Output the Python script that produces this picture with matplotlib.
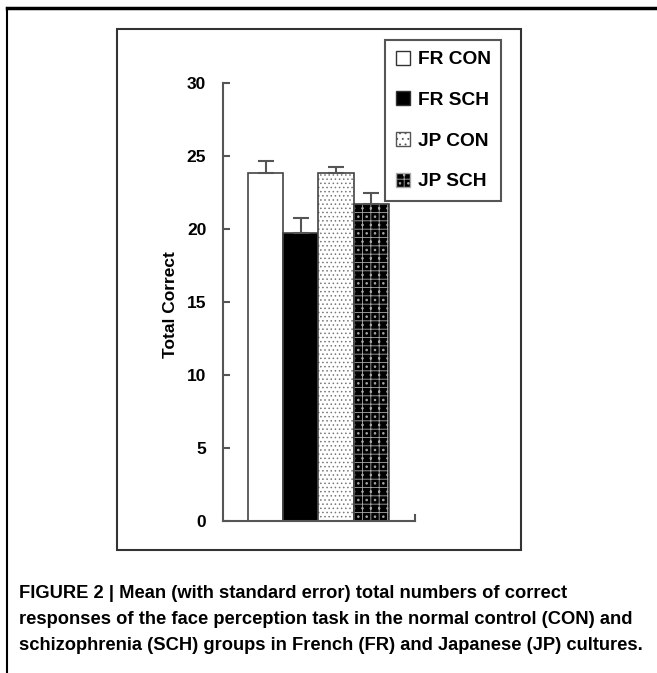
import matplotlib
matplotlib.use('Agg')
import matplotlib.pyplot as plt
from matplotlib.patches import Patch, Rectangle
from matplotlib.lines import Line2D
import numpy as np

groups = ['FR CON', 'FR SCH', 'JP CON', 'JP SCH']
means = [23.85, 19.7, 23.85, 21.7]
se = [0.8, 1.05, 0.4, 0.75]
yticks = [0, 5, 10, 15, 20, 25, 30]
caption = ('FIGURE 2 | Mean (with standard error) total numbers of correct\n'
           'responses of the face perception task in the normal control (CON) and\n'
           'schizophrenia (SCH) groups in French (FR) and Japanese (JP) cultures.')

plt.rcParams['hatch.linewidth'] = 0.6

W, H = 657, 673
fig = plt.figure(figsize=(W / 100, H / 100), dpi=100)
tick_font = ['Liberation Sans Narrow', 'Liberation Sans', 'DejaVu Sans']

# outer page frame and chart box
fig.add_artist(Line2D([7 / W, 1], [1 - 8 / H, 1 - 8 / H], color='black', lw=2.5))
fig.add_artist(Line2D([7 / W, 7 / W], [0, 1 - 8 / H], color='black', lw=1.5))
fig.add_artist(Rectangle((117 / W, 1 - 550 / H), (521 - 117) / W, (550 - 29) / H,
                         fill=False, edgecolor='#333333', lw=1.5, transform=fig.transFigure))

ax = fig.add_axes([223 / W, 1 - 521 / H, (415 - 223) / W, (521 - 83) / H])
x = np.arange(len(groups))
faces = ['white', 'black', 'white', 'black']
hatch_col = ['#555555', 'black', '#777777', '#aaaaaa']
hatches = [None, None, '....', '++..']

for i in range(len(groups)):
    ax.bar(x[i], means[i], width=1.0, color=faces[i], edgecolor=hatch_col[i],
           hatch=hatches[i], linewidth=0)
    ax.bar(x[i], means[i], width=1.0, fill=False, edgecolor='#444444', linewidth=1.2)

ax.errorbar(x, means, yerr=[np.zeros(len(se)), se], fmt='none', ecolor='#555555',
            elinewidth=1.5, capsize=6, capthick=1.5)

ax.set_xlim(-1.214, 4.243)
ax.set_ylim(0, 30)
ax.set_yticks(yticks)
ax.set_xticks([])
ax.spines['top'].set_visible(False)
ax.spines['right'].set_visible(False)
for s in ['left', 'bottom']:
    ax.spines[s].set_color('#555555')
    ax.spines[s].set_linewidth(1.5)
ax.tick_params(axis='y', direction='in', length=5, width=1.5, color='#555555', pad=12)
for lab in ax.get_yticklabels():
    lab.set_family(tick_font)
    lab.set_fontweight('bold')
    lab.set_fontsize(12.5)
ax.plot([4.243, 4.243], [0, 0.4], color='#555555', lw=1.5, clip_on=False)

ax.set_ylabel('Total Correct', family=tick_font, fontweight='bold', fontsize=12.5)
ax.yaxis.set_label_coords(-0.235, 0.495)

handles = [Patch(facecolor=faces[i], edgecolor='#333333' if i != 3 else '#aaaaaa',
                 hatch=hatches[i], linewidth=1) for i in range(len(groups))]
handles[2] = Patch(facecolor='white', edgecolor='#555555', hatch='...', linewidth=1)
leg = fig.legend(handles, groups, loc='upper left',
                 bbox_to_anchor=(385 / W, 1 - 40 / H), fancybox=False,
                 edgecolor='#555555', framealpha=1, handlelength=0.75,
                 handleheight=0.75, handletextpad=0.4, labelspacing=1.2,
                 borderpad=0.55, borderaxespad=0,
                 prop={'family': tick_font, 'weight': 'bold', 'size': 13.8})
leg.get_frame().set_linewidth(1.5)

fig.text(19 / W, 1 - 585 / H, caption, ha='left', va='top',
         family=['Liberation Sans', 'DejaVu Sans'], fontweight='bold',
         fontsize=13.2, linespacing=1.68)

fig.savefig('out.png', dpi=100)
